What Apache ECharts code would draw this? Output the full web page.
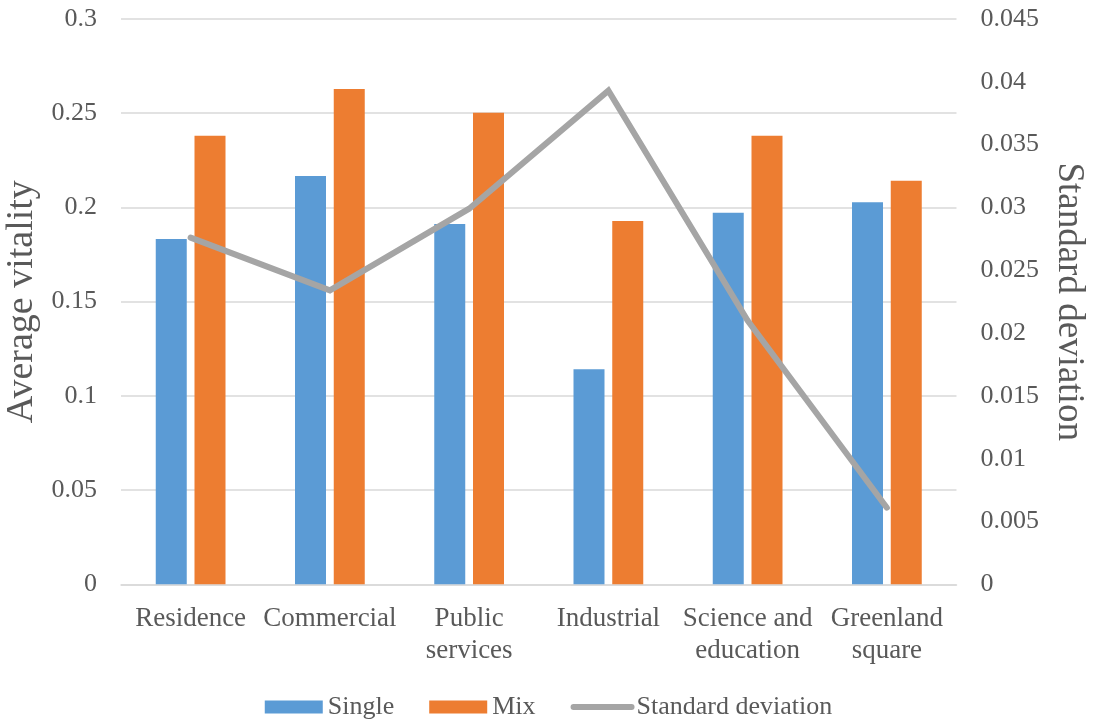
<!DOCTYPE html>
<html>
<head>
<meta charset="utf-8">
<script src="https://cdn.jsdelivr.net/npm/echarts@6/dist/echarts.min.js"></script>
<style>
html,body{margin:0;padding:0;background:#fff;}
#chart{width:1097px;height:725px;}
</style>
</head>
<body>
<div id="chart"></div>
<script>
const categories = ["Residence", "Commercial", "Public\nservices", "Industrial", "Science and\neducation", "Greenland\nsquare"];
const singleValues = [0.1833, 0.2167, 0.1912, 0.1141, 0.1972, 0.2028];
const mixValues = [0.2381, 0.2629, 0.2503, 0.1928, 0.2381, 0.2141];
const stdValues = [0.0276, 0.0234, 0.0299, 0.0393, 0.0210, 0.0061];

const FONT = "Liberation Serif";
const TXT = "#595959";

const chart = echarts.init(document.getElementById('chart'), null, {renderer: 'canvas'});
chart.setOption({
  animation: false,
  backgroundColor: '#ffffff',
  textStyle: {fontFamily: FONT, color: TXT},
  grid: {left: 121, right: 140.5, top: 19, bottom: 140.7, containLabel: false, outerBoundsMode: 'none'},
  legend: {
    bottom: 0,
    left: 'center',
    itemWidth: 58,
    itemHeight: 13,
    itemGap: 35,
    textStyle: {fontFamily: FONT, fontSize: 26, color: TXT},
    data: [
      {name: 'Single', icon: 'rect'},
      {name: 'Mix', icon: 'rect'},
      {name: 'Standard deviation', itemStyle: {opacity: 0},
       lineStyle: {width: 6, color: '#A5A5A5', cap: 'round'}}
    ]
  },
  xAxis: {
    type: 'category',
    data: categories,
    axisLine: {show: true, lineStyle: {color: '#D9D9D9', width: 1.5}},
    axisTick: {show: false},
    axisLabel: {fontFamily: FONT, fontSize: 27, color: TXT, margin: 19, lineHeight: 32, interval: 0}
  },
  yAxis: [
    {
      type: 'value',
      min: 0, max: 0.3, interval: 0.05,
      name: 'Average vitality',
      nameLocation: 'middle',
      nameRotate: 90,
      nameGap: 73,
      nameTextStyle: {fontFamily: FONT, fontSize: 38, color: TXT},
      axisLine: {show: false},
      axisTick: {show: false},
      axisLabel: {fontFamily: FONT, fontSize: 26, color: TXT, margin: 24},
      splitLine: {show: true, lineStyle: {color: '#D9D9D9', width: 1.5}}
    },
    {
      type: 'value',
      min: 0, max: 0.045, interval: 0.005,
      name: 'Standard deviation',
      nameLocation: 'middle',
      nameRotate: -90,
      nameGap: 94,
      nameTextStyle: {fontFamily: FONT, fontSize: 37, color: TXT},
      axisLine: {show: false},
      axisTick: {show: false},
      axisLabel: {fontFamily: FONT, fontSize: 26, color: TXT, margin: 24},
      splitLine: {show: false}
    }
  ],
  series: [
    {
      name: 'Single', type: 'bar', data: singleValues,
      barWidth: 31, barGap: '25%',
      itemStyle: {color: '#5B9BD5'}
    },
    {
      name: 'Mix', type: 'bar', data: mixValues,
      barWidth: 31, barGap: '25%',
      itemStyle: {color: '#ED7D31'}
    },
    {
      name: 'Standard deviation', type: 'line', yAxisIndex: 1, data: stdValues,
      symbol: 'none',
      lineStyle: {color: '#A5A5A5', width: 6, cap: 'round', join: 'miter'},
      itemStyle: {color: '#A5A5A5'}
    }
  ]
});
</script>
</body>
</html>
